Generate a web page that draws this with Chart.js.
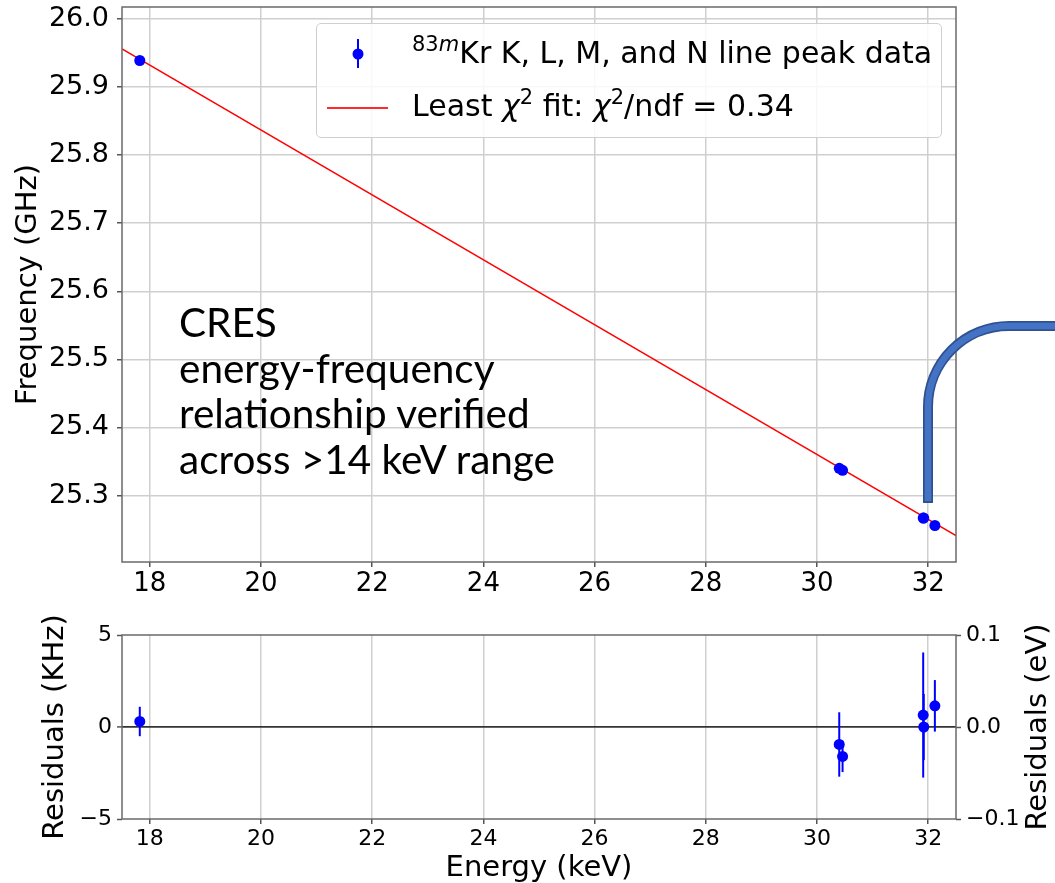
<!DOCTYPE html>
<html>
<head>
<meta charset="utf-8">
<script src="https://cdn.jsdelivr.net/npm/chart.js@4.4.1/dist/chart.umd.min.js"></script>
<style>
  body { margin: 0; background: #fff; width: 1055px; height: 883px; overflow: hidden; position: relative; font-family: 'DejaVu Sans', sans-serif; }
  #topChart { position: absolute; left: 0; top: 0; }
  #botChart { position: absolute; left: 0; top: 600px; }
  #legend { position: absolute; left: 316px; top: 23px; width: 626px; height: 115px; box-sizing: border-box;
            border: 1.5px solid #cfcfcf; border-radius: 5px; background: rgba(255,255,255,0.85); }
  #legend svg { position: absolute; left: 0; top: 0; }
  #legend .row { position: absolute; left: 95px; font-size: 30px; line-height: 30px; white-space: nowrap; color: #000; }
  #legend .sup { position: relative; top: -0.55em; font-size: 0.7em; line-height: 0; }
  #note { position: absolute; left: 179px; top: 299px; font-family: Lato, sans-serif; font-size: 40.5px; line-height: 45.7px; color: #000; white-space: nowrap; }
  #pipe { position: absolute; left: 0; top: 0; pointer-events: none; }
</style>
</head>
<body>
<canvas id="topChart" width="1055" height="600"></canvas>
<canvas id="botChart" width="1055" height="283"></canvas>

<div id="legend">
  <svg width="626" height="115">
    <line x1="41" y1="15" x2="41" y2="44" stroke="#0000ff" stroke-width="2"/>
    <circle cx="41" cy="30" r="5.5" fill="#0000ff"/>
    <line x1="10" y1="84" x2="71" y2="84" stroke="#ff2a2a" stroke-width="2"/>
  </svg>
  <div class="row" style="top:14px"><span class="sup">83<i>m</i></span>Kr K, L, M, and N line peak data</div>
  <div class="row" style="top:67px">Least <i>χ</i><span class="sup">2</span> fit: <i>χ</i><span class="sup">2</span>/ndf = 0.34</div>
</div>

<div id="note">CRES<br>energy-frequency<br>relationship verified<br>across &gt;14 keV range</div>

<svg id="pipe" width="1055" height="883">
  <path d="M928 503 L928 407 A81 81 0 0 1 1009 326 L1060 326" fill="none" stroke="#2f528f" stroke-width="10"/>
  <path d="M928 501 L928 407 A81 81 0 0 1 1009 326 L1060 326" fill="none" stroke="#4472c4" stroke-width="6.5"/>
</svg>

<script>
// measured peaks: energy (keV), frequency (GHz), residuals (kHz)
const energyKeV = [17.82, 30.40, 30.46, 31.91, 31.92, 32.12];
const freqGHz = [25.939, 25.340, 25.337, 25.267, 25.267, 25.256];
const residKHz = [0.3, -0.95, -1.6, 0.65, 0.0, 1.15];
const residErrKHz = [0.8, 1.75, 0.85, 3.4, 1.8, 1.4];

// least chi2 fit line end points
const fitEnergy = [17.5, 32.5];
const fitFreq = [25.956, 25.241];

const energyTicks = [18, 20, 22, 24, 26, 28, 30, 32];
const freqTicks = [25.3, 25.4, 25.5, 25.6, 25.7, 25.8, 25.9, 26.0];
const residTicks = [-5, 0, 5];
const residEvTicks = [-0.1, 0, 0.1];

const pts = (xs, ys) => xs.map((x, i) => ({ x: x, y: ys[i] }));
const useTicks = vals => s => { s.ticks = vals.map(v => ({ value: v })); };
const noPad = s => { s.paddingTop = 0; s.paddingBottom = 0; s.paddingLeft = 0; s.paddingRight = 0; };
const minus = s => String(s).replace('-', '\u2212');

const gridColor = '#cfcfcf';
const font = size => ({ family: 'DejaVu Sans', size: size });

const frame = {
    id: 'frame',
    afterDraw(chart) {
        const { ctx, chartArea: a } = chart;
        ctx.save();
        ctx.strokeStyle = '#6a6a6a';
        ctx.lineWidth = 1.5;
        ctx.strokeRect(a.left, a.top, a.right - a.left, a.bottom - a.top);
        ctx.restore();
    }
};

const errorBars = {
    id: 'errorBars',
    beforeDatasetsDraw(chart) {
        const { ctx, scales: { x, y } } = chart;
        ctx.save();
        ctx.strokeStyle = '#0000ff';
        ctx.lineWidth = 2;
        energyKeV.forEach((e, i) => {
            const px = x.getPixelForValue(e);
            ctx.beginPath();
            ctx.moveTo(px, y.getPixelForValue(residKHz[i] - residErrKHz[i]));
            ctx.lineTo(px, y.getPixelForValue(residKHz[i] + residErrKHz[i]));
            ctx.stroke();
        });
        ctx.restore();
    }
};

const rightTitle = {
    id: 'rightTitle',
    afterDraw(chart) {
        const { ctx, chartArea: a } = chart;
        ctx.save();
        ctx.translate(chart.scales.y1.right - 17, (a.top + a.bottom) / 2);
        ctx.rotate(-Math.PI / 2);
        ctx.font = '29px "DejaVu Sans"';
        ctx.fillStyle = '#000';
        ctx.textAlign = 'center';
        ctx.textBaseline = 'middle';
        ctx.fillText('Residuals (eV)', 0, 0);
        ctx.restore();
    }
};

const tickGrid = { color: gridColor, lineWidth: 1.5, tickLength: 5, tickColor: '#555', tickWidth: 1.5 };

new Chart(document.getElementById('topChart'), {
    data: {
        datasets: [
            {
                type: 'scatter',
                label: 'peaks',
                data: pts(energyKeV, freqGHz),
                backgroundColor: '#0000ff',
                borderWidth: 0,
                pointRadius: 5.5,
                order: 0
            },
            {
                type: 'line',
                label: 'fit',
                data: pts(fitEnergy, fitFreq),
                borderColor: '#ff0000',
                borderWidth: 1.5,
                pointRadius: 0,
                order: 1
            }
        ]
    },
    options: {
        responsive: false,
        animation: false,
        devicePixelRatio: 1,
        layout: { padding: { top: 7, right: 99, left: 0, bottom: 0 } },
        plugins: { legend: { display: false }, tooltip: { enabled: false } },
        scales: {
            x: {
                type: 'linear', min: 17.5, max: 32.5,
                afterBuildTicks: useTicks(energyTicks),
                afterFit: s => { s.height = 38; noPad(s); },
                ticks: { font: font(26), color: '#000', padding: 2, maxRotation: 0, autoSkip: false },
                grid: tickGrid,
                border: { display: false }
            },
            y: {
                type: 'linear', min: 25.2024, max: 26.0176,
                afterBuildTicks: useTicks(freqTicks),
                afterFit: s => { s.width = 122; noPad(s); },
                ticks: { font: font(27), color: '#000', padding: 8, autoSkip: false, callback: v => v.toFixed(1) },
                grid: tickGrid,
                border: { display: false },
                title: { display: true, text: 'Frequency (GHz)', font: font(29), color: '#000', padding: { top: 11, bottom: 0 } }
            }
        }
    },
    plugins: [frame]
});

new Chart(document.getElementById('botChart'), {
    data: {
        datasets: [
            {
                type: 'scatter',
                label: 'residuals',
                data: pts(energyKeV, residKHz),
                backgroundColor: '#0000ff',
                borderWidth: 0,
                pointRadius: 5.5
            }
        ]
    },
    options: {
        responsive: false,
        animation: false,
        devicePixelRatio: 1,
        layout: { padding: { top: 35, right: 0, left: 0, bottom: 0 } },
        plugins: { legend: { display: false }, tooltip: { enabled: false } },
        scales: {
            x: {
                type: 'linear', min: 17.5, max: 32.5,
                afterBuildTicks: useTicks(energyTicks),
                afterFit: s => { s.height = 64; noPad(s); },
                ticks: { font: font(22), color: '#000', padding: 2, maxRotation: 0, autoSkip: false },
                grid: tickGrid,
                border: { display: false },
                title: { display: true, text: 'Energy (keV)', font: font(29), color: '#000', padding: { top: 0, bottom: -3 } }
            },
            y: {
                type: 'linear', min: -5, max: 5,
                afterBuildTicks: useTicks(residTicks),
                afterFit: s => { s.width = 122; noPad(s); },
                ticks: { font: font(22), color: '#000', padding: 5, autoSkip: false, callback: v => minus(v) },
                grid: {
                    color: c => c.tick && c.tick.value === 0 ? '#333' : 'rgba(0,0,0,0)',
                    lineWidth: c => c.tick && c.tick.value === 0 ? 1.8 : 1,
                    tickLength: 5, tickColor: '#555', tickWidth: 1.5
                },
                border: { display: false },
                title: { display: true, text: 'Residuals (KHz)', font: font(29), color: '#000', padding: { top: 38, bottom: 0 } }
            },
            y1: {
                type: 'linear', position: 'right', min: -0.1, max: 0.1,
                afterBuildTicks: useTicks(residEvTicks),
                afterFit: s => { s.width = 99; noPad(s); },
                ticks: { font: font(22), color: '#000', padding: 5, autoSkip: false, callback: v => minus(v.toFixed(1)) },
                grid: { drawOnChartArea: false, tickLength: 5, tickColor: '#555', tickWidth: 1.5 },
                border: { display: false }
            }
        }
    },
    plugins: [errorBars, frame, rightTitle]
});
</script>
</body>
</html>
